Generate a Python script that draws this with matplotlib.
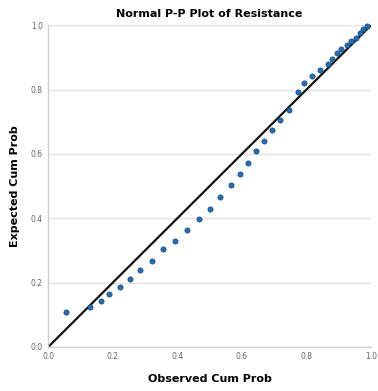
import matplotlib
matplotlib.use("Agg")
import matplotlib.pyplot as plt

# observed vs expected cumulative probabilities
observed = [0.055, 0.129, 0.162, 0.189, 0.222, 0.253, 0.284, 0.320, 0.356,
            0.393, 0.431, 0.468, 0.500, 0.533, 0.565, 0.594, 0.618, 0.643,
            0.668, 0.694, 0.718, 0.746, 0.775, 0.792, 0.818, 0.843, 0.866,
            0.881, 0.896, 0.909, 0.925, 0.940, 0.953, 0.965, 0.976, 0.987]
expected = [0.107, 0.123, 0.143, 0.164, 0.187, 0.211, 0.239, 0.267, 0.303,
            0.330, 0.363, 0.397, 0.430, 0.466, 0.503, 0.537, 0.572, 0.608,
            0.641, 0.676, 0.707, 0.738, 0.793, 0.821, 0.842, 0.861, 0.881,
            0.897, 0.914, 0.928, 0.938, 0.952, 0.962, 0.976, 0.990, 0.997]
ticks = [0.0, 0.2, 0.4, 0.6, 0.8, 1.0]

fig = plt.figure(figsize=(3.78, 3.91), dpi=100)
ax = fig.add_axes([0.128, 0.113, 0.853, 0.822])

ax.set_xlim(0, 1)
ax.set_ylim(0, 1)
ax.set_xticks(ticks)
ax.set_yticks(ticks)
ax.set_xticklabels(["%.1f" % t for t in ticks])
ax.set_yticklabels(["%.1f" % t for t in ticks])
ax.tick_params(length=0, labelsize=5.5, labelcolor="#666666", pad=4)

# horizontal grid only
ax.yaxis.grid(True, color="#e2e2e2", linewidth=1)
ax.set_axisbelow(True)
for side in ("top", "right"):
    ax.spines[side].set_visible(False)
for side in ("left", "bottom"):
    ax.spines[side].set_color("#cfcfcf")
    ax.spines[side].set_linewidth(1)

# reference line
ax.plot([0, 1], [0, 1], color="#111111", linewidth=1.6, zorder=2)
ax.scatter(observed, expected, s=14, color="#1b6fbd", edgecolors="#24476b",
           linewidths=0.5, zorder=3, clip_on=False)

ax.set_title("Normal P-P Plot of Resistance", fontsize=8, fontweight="bold",
             pad=6)
ax.set_xlabel("Observed Cum Prob", fontsize=8, fontweight="bold", labelpad=9)
ax.set_ylabel("Expected Cum Prob", fontsize=8, fontweight="bold", labelpad=8)

fig.savefig("out.png", dpi=100)
